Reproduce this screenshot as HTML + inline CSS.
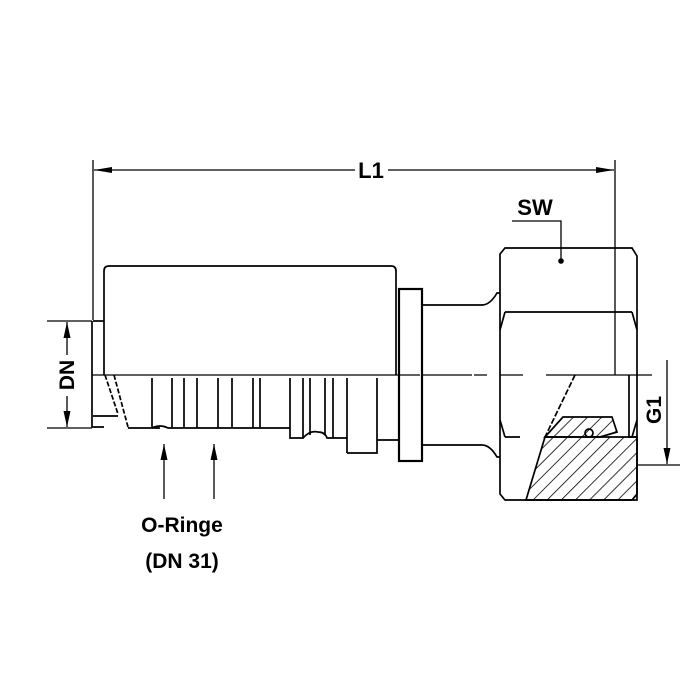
<!DOCTYPE html>
<html><head><meta charset="utf-8"><style>
html,body{margin:0;padding:0;background:#fff;width:700px;height:700px;overflow:hidden}
text{font-family:"Liberation Sans",sans-serif;font-weight:bold;fill:#000}
</style></head><body>
<svg width="700" height="700" viewBox="0 0 700 700" xmlns="http://www.w3.org/2000/svg">
<defs>
<marker id="a" viewBox="0 0 18 7" refX="18" refY="3.5" markerWidth="18" markerHeight="7" markerUnits="userSpaceOnUse" orient="auto"><path d="M0,0.5 L18,3.5 L0,6.5 Z" fill="#000"/></marker>
<marker id="b" viewBox="0 0 16 8" refX="16" refY="4" markerWidth="16" markerHeight="8" markerUnits="userSpaceOnUse" orient="auto"><path d="M0,0.5 L16,4 L0,7.5 Z" fill="#000"/></marker>
<pattern id="h" patternUnits="userSpaceOnUse" width="10" height="10" patternTransform="rotate(45)"><line x1="0" y1="0" x2="0" y2="10" stroke="#000" stroke-width="1.6"/></pattern>
</defs>
<g stroke="#000" fill="none" stroke-width="1.7">
<!-- L1 -->
<line x1="93" y1="160" x2="93" y2="320" stroke-width="1.3"/>
<line x1="615" y1="160" x2="615" y2="375" stroke-width="1.3"/>
<line x1="355" y1="170" x2="94" y2="170" marker-end="url(#a)" stroke-width="1.3"/>
<line x1="388" y1="170" x2="614" y2="170" marker-end="url(#a)" stroke-width="1.3"/>
<!-- left end -->
<path d="M93,321 H104"/>
<path d="M92,321 V427 H104"/>
<path d="M93,416 H118" />
<path d="M105,375 L118,414 M114,375 L128,427" stroke-dasharray="5,2"/>
<!-- sleeve -->
<path d="M104,375 V271 Q104,266 109,266 H391 Q396,266 396,271 V375"/>
<!-- centerline -->
<path d="M92,375 H398 M398,375 H420 M422,375 H472 M474,375 H487 M500,375 H523 M546,375 H652" stroke-width="1.3"/>
<!-- ridges -->
<path d="M128,428 H152 V378 M152,428 H160 M152,428 Q160,424 168,428 H172 V378 M172,428 H184 V378 M184,428 H197 V378 M197,428 H218 V378 M218,428 H232 V378 M232,428 H253 V378 M253,428 H260 V378 M260,428 H290"/>
<path d="M290,378 V438 H303 V378 M303,438 Q310,430 318,432 Q325,432 327,438 H333 V378 M310,378 V435 M325,378 V435 M333,438 H347 V378 M347,453 H377 V378 M347,438 V453 M377,440 H399"/>
<!-- flange -->
<rect x="399" y="289" width="23" height="172" stroke-width="2.2"/>
<!-- neck -->
<path d="M422,305 H482 Q490,305 497,293 H500 M422,445 H482 Q490,445 497,457 H500"/>
<!-- hex -->
<path d="M500,254 L505,248 H632 L637,256 V494 L632,500 H505 L500,494 Z"/>
<path d="M505,312 H632 M505,437 H520 M505,312 L500,330 M505,437 L500,420 M632,312 L637,330 M632,437 L637,420"/>
<path d="M629,375 V437 H637"/>
<!-- hatched -->
<path d="M526,500 L545,437 H637 V500 Z" fill="url(#h)"/>
<path d="M545,437 L563,417 H612 L617,432 L600,437 Z" fill="url(#h)"/>
<path d="M575,375 L545,437" stroke-dasharray="6,2"/>
<circle cx="589" cy="433" r="4"/>
<!-- DN -->
<path d="M47,321 H92 M47,428 H92" stroke-width="1.3"/>
<line x1="67" y1="355" x2="67" y2="322" marker-end="url(#b)" stroke-width="1.3"/>
<line x1="67" y1="396" x2="67" y2="427" marker-end="url(#b)" stroke-width="1.3"/>
<!-- G1 -->
<line x1="667" y1="360" x2="667" y2="464" marker-end="url(#b)" stroke-width="1.3"/>
<path d="M637,465 H680" stroke-width="1.3"/>
<!-- SW -->
<path d="M512,221 H561 V261" stroke-width="1.3"/>
<!-- O-ring arrows -->
<line x1="164" y1="499" x2="164" y2="444" marker-end="url(#b)" stroke-width="1.3"/>
<line x1="214" y1="499" x2="214" y2="444" marker-end="url(#b)" stroke-width="1.3"/>
</g>
<circle cx="561" cy="261" r="2.8" fill="#000"/>
<text x="371" y="178" font-size="22" text-anchor="middle">L1</text>
<text x="535" y="215" font-size="22" text-anchor="middle">SW</text>
<text x="0" y="0" font-size="21" text-anchor="middle" transform="translate(74,375) rotate(-90)">DN</text>
<text x="0" y="0" font-size="21" text-anchor="middle" transform="translate(661,410) rotate(-90)">G1</text>
<text x="182" y="532" font-size="21" text-anchor="middle">O-Ringe</text>
<text x="182" y="568" font-size="21" text-anchor="middle">(DN 31)</text>
</svg>
</body></html>
